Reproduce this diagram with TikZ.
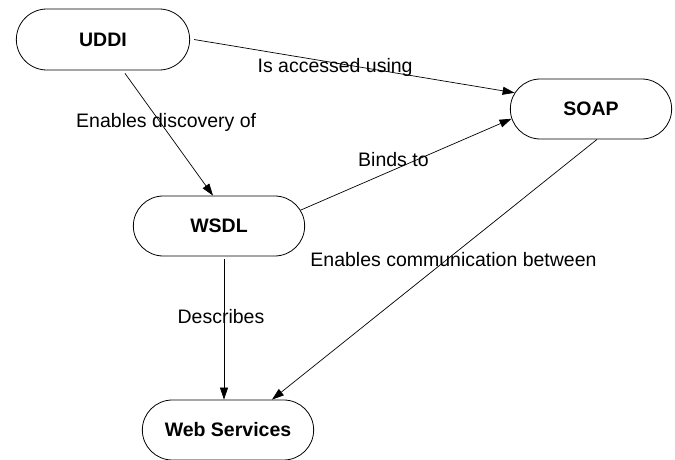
\documentclass[tikz,border=0pt]{standalone}
\usepackage{fontspec}
\setmainfont{Liberation Sans}
\usepackage{tikz}
\usetikzlibrary{arrows.meta}
\usetikzlibrary{shapes.misc}
\tikzstyle{concept} = [draw, rounded rectangle,
	line width=0.8pt,
	minimum height=60pt,
	font=\fontsize{19.5}{23}\selectfont\bfseries]
\tikzstyle{lbl} = [inner sep=0pt, font=\fontsize{19.5}{23}\selectfont]
\tikzstyle{arrow} = [-{Triangle[length=12pt, width=8pt]}, line width=0.7pt]

\begin{document}
\begin{tikzpicture}[x=1pt, y=1pt]
	\useasboundingbox (0,0) rectangle (675,459);
	
	\node (uddi) [concept, minimum width=180pt, minimum height=61pt] at (103,419.5) {UDDI};
	\node (soap) [concept, minimum width=168pt] at (591,350) {SOAP};
	\node (wsdl) [concept, minimum width=178pt] at (219,233) {WSDL};
	\node (ws) [concept, minimum width=178pt] at (228,29) {Web Services};
	
	%UDDI
	\draw [arrow] ([xshift=4pt]uddi.east) -- (soap.168) node (lacc)[lbl, pos=0.44, yshift=-5pt] {Is accessed using};
	\draw [arrow] ([shift={(22pt,-3pt)}]uddi.south) -- ([xshift=-6pt]wsdl.north) node (ldisc)[lbl, pos=0.4, xshift=6pt] {Enables discovery of};
	
	%WSDL
	\draw [arrow] (wsdl.11) -- (soap.187) node (lbind)[lbl, pos=0.44, yshift=10pt] {Binds to};
	\draw [arrow] ([shift={(5pt,-3pt)}]wsdl.south) -- ([xshift=-4pt]ws.north) node (ldesc)[lbl, pos=0.41, xshift=-3pt] {Describes};
	
	%SOAP
	\draw [arrow] ([xshift=6pt]soap.south) -- ([xshift=44pt]ws.north) node (lcomm)[lbl, pos=0.46, xshift=6pt] {Enables communication between};
\end{tikzpicture}
\end{document}
